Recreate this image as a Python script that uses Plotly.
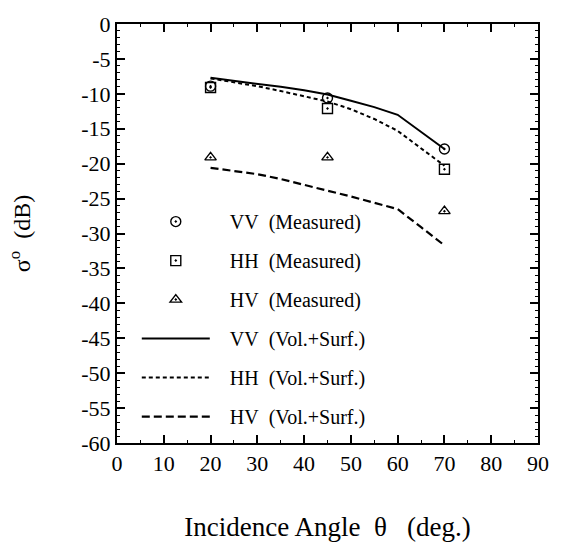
import plotly.graph_objects as go

# Measured data
meas_angle = [20, 45, 70]
vv_meas = [-8.9, -10.6, -17.9]
hh_meas = [-9.1, -12.1, -20.8]
hv_meas = [-19.1, -19.1, -26.8]

# Model (Vol.+Surf.)
model_angle = [20, 25, 30, 35, 40, 45, 50, 55, 60, 65, 70]
vv_model = [-7.7, -8.1, -8.6, -9.0, -9.5, -10.1, -11.0, -11.9, -13.0, -15.4, -17.9]
hh_model = [-7.8, -8.3, -8.9, -9.6, -10.3, -11.1, -12.2, -13.6, -15.3, -17.8, -20.3]
hv_model = [-20.6, -21.0, -21.5, -22.2, -23.0, -23.8, -24.7, -25.6, -26.5, -29.1, -31.7]

x_ticks = [0, 10, 20, 30, 40, 50, 60, 70, 80, 90]
y_ticks = [0, -5, -10, -15, -20, -25, -30, -35, -40, -45, -50, -55, -60]

FONT = "Liberation Serif, Times New Roman, serif"
NB = "\u00a0"
PAD = NB * 3

fig = go.Figure()
mk = dict(color="black", size=10, line=dict(color="black", width=1.4))
fig.add_trace(go.Scatter(x=meas_angle, y=vv_meas, mode="markers", name=f"{PAD}VV{NB*2}(Measured)",
                         marker=dict(symbol="circle-open-dot", **mk), legendgroup="a"))
fig.add_trace(go.Scatter(x=meas_angle, y=hh_meas, mode="markers", name=f"{PAD}HH{NB*2}(Measured)",
                         marker=dict(symbol="square-open-dot", **mk), legendgroup="b"))
fig.add_trace(go.Scatter(x=meas_angle, y=hv_meas, mode="markers", name=f"{PAD}HV{NB*2}(Measured)",
                         marker=dict(symbol="triangle-up-open-dot", **mk), legendgroup="c"))
fig.add_trace(go.Scatter(x=model_angle, y=vv_model, mode="lines", name=f"{PAD}VV{NB*2}(Vol.+Surf.)",
                         line=dict(color="black", width=2, dash="solid"), legendgroup="d"))
fig.add_trace(go.Scatter(x=model_angle, y=hh_model, mode="lines", name=f"{PAD}HH{NB*2}(Vol.+Surf.)",
                         line=dict(color="black", width=2, dash="4px,3px"), legendgroup="e"))
fig.add_trace(go.Scatter(x=model_angle, y=hv_model, mode="lines", name=f"{PAD}HV{NB*2}(Vol.+Surf.)",
                         line=dict(color="black", width=2.2, dash="8px,4px"), legendgroup="f"))

axis_common = dict(
    showline=True, linecolor="black", linewidth=2, mirror="ticks",
    ticks="inside", tickcolor="black", tickwidth=1.5, ticklen=8,
    showgrid=False, zeroline=False,
    tickfont=dict(family=FONT, size=22, color="black"),
)

fig.update_xaxes(range=[0, 90], tickvals=x_ticks, ticktext=[str(v) for v in x_ticks],
                 minor=dict(ticks="inside", dtick=5, ticklen=3, tickcolor="black", tickwidth=1),
                 title=dict(text=f"Incidence Angle{NB*2}θ{NB*3}(deg.)",
                            font=dict(family=FONT, size=27, color="black"), standoff=42),
                 **axis_common)
fig.update_yaxes(range=[-60, 0], tickvals=y_ticks, ticktext=[str(v) for v in y_ticks],
                 minor=dict(ticks="inside", dtick=1, ticklen=3, tickcolor="black", tickwidth=1),
                 title=dict(text=f"σ<sup>o</sup>{NB*2}(dB)",
                            font=dict(family=FONT, size=24, color="black"), standoff=44),
                 **axis_common)

fig.update_layout(
    width=561, height=549,
    margin=dict(l=117, r=18, t=15, b=104),
    paper_bgcolor="white", plot_bgcolor="white",
    font=dict(family=FONT, color="black"),
    showlegend=True,
    legend=dict(x=0.047, y=0.575, xanchor="left", yanchor="top",
                bgcolor="rgba(0,0,0,0)", borderwidth=0,
                font=dict(family=FONT, size=20, color="black"),
                traceorder="grouped", tracegroupgap=10, itemwidth=68),
)

fig.write_html("out.html", config={"displayModeBar": False},
               post_script="document.body.style.margin='0';")
